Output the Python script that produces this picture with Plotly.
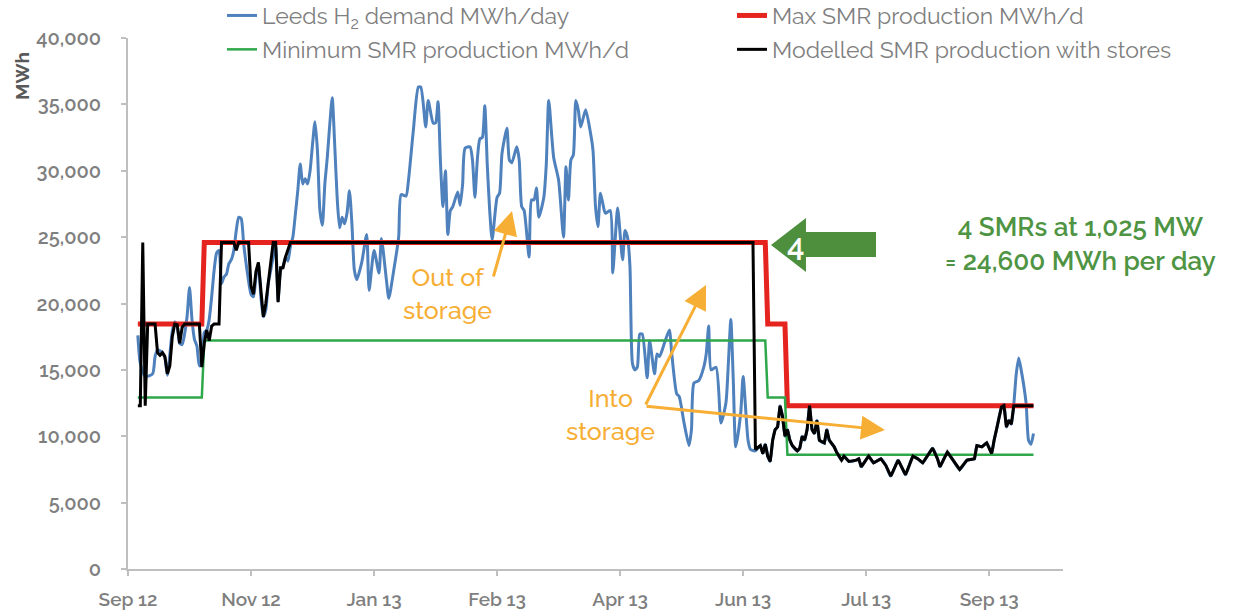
import pandas as pd
import plotly.graph_objects as go

# ---------------- data (day 0 = 1 Oct 2012) ----------------
START = pd.Timestamp("2012-10-01")

demand_day = [0, 1, 3, 6, 7, 8, 10, 11, 12, 14, 15, 16, 17, 18, 19, 20, 21, 22, 23, 24, 25, 26, 27, 28, 29,
              30, 31, 32, 33, 34, 35, 36, 37, 38, 39, 40, 41, 42, 43, 44, 45, 46, 47, 48, 49, 50, 51, 52, 53,
              54, 55, 56, 57, 58, 59, 60, 61, 62, 63, 64, 65, 66, 67, 68, 69, 70, 71, 72, 73, 74, 75, 76, 77,
              78, 79, 80, 81, 82, 83, 84, 85, 86, 87, 88, 89, 91, 93, 94, 96, 98, 99, 101, 102, 104, 106, 107,
              109, 110, 112, 114, 115, 117, 118, 120, 121, 122, 123, 124, 125, 126, 127, 128, 130, 131, 132,
              133, 135, 136, 137, 138, 139, 140, 141, 142, 143, 144, 146, 147, 148, 150, 151, 152, 154, 155,
              156, 157, 159, 160, 161, 162, 163, 165, 166, 167, 169, 171, 173, 174, 175, 176, 177, 178, 179,
              180, 182, 184, 185, 186, 187, 188, 189, 190, 192, 193, 194, 195, 197, 198, 199, 200, 201, 202,
              203, 204, 205, 207, 208, 210, 211, 212, 214, 216, 217, 219, 220, 222, 224, 225, 226, 228, 230,
              231, 232, 233, 235, 237, 239, 240, 241, 242, 243, 245, 246, 248, 249, 251, 253, 254, 255, 256,
              257, 258, 259, 260, 261, 262, 263, 264, 265, 266, 268, 269, 270, 271, 272, 273, 274, 275, 276,
              277, 279, 280, 281, 283, 284, 286, 287, 289, 292, 293, 294, 297, 299, 302, 304, 306, 309, 312,
              315, 317, 319, 323, 325, 326, 329, 331, 334, 337, 340, 341, 343, 345, 347, 348, 349, 351, 352,
              353, 354, 355, 356, 357, 358, 359, 361, 362, 363, 364]
demand_mwh = [17600, 15500, 14500, 14700, 16000, 16500, 16300, 15900, 14600, 17900, 18600, 18300, 17000, 16900,
              17700, 19000, 21200, 18800, 17300, 16800, 15300, 15500, 17800, 18000, 18800, 20500, 22500, 23800,
              24000, 21500, 22000, 22200, 23000, 23300, 24000, 25500, 26500, 26400, 24500, 23000, 21700, 20700,
              20500, 22000, 23000, 20500, 19000, 19500, 21500, 22500, 23500, 24500, 20200, 22500, 22800, 23500,
              23200, 24300, 25000, 26700, 28500, 30500, 29000, 29400, 29000, 30000, 32000, 33700, 31500, 27000,
              25900, 29000, 31000, 33500, 35500, 32000, 28000, 25700, 26500, 26000, 26800, 28500, 26000, 22500,
              21800, 23100, 25200, 21000, 24000, 22300, 24900, 21800, 20400, 22500, 25000, 28200, 28100, 29300,
              33100, 36300, 36300, 33300, 35300, 33600, 33600, 35200, 30600, 27300, 30000, 25200, 27000, 27300,
              28400, 27400, 29000, 31700, 31800, 30800, 28000, 30900, 32400, 32500, 34900, 30500, 27000, 24800,
              28000, 28300, 31300, 33200, 30800, 30600, 31800, 30800, 27300, 27000, 23500, 27800, 27800, 28700,
              26500, 28000, 30500, 35300, 31000, 29300, 25000, 30300, 27800, 30800, 31200, 35300, 34600, 33300,
              34600, 32800, 31500, 27300, 25800, 28300, 27500, 26800, 27000, 22300, 24800, 27200, 23300, 25500,
              25000, 22800, 15500, 15000, 15200, 17700, 17700, 14400, 17200, 14700, 16200, 16000, 17000, 18000,
              16200, 13200, 13000, 11000, 9300, 10500, 14000, 14200, 15200, 16200, 18300, 15000, 15200, 11000,
              12500, 15500, 18800, 14200, 9200, 11700, 14500, 9700, 9000, 8900, 9300, 8700, 9400, 8500, 8100,
              9700, 10500, 10700, 12300, 11500, 10000, 10500, 9700, 9300, 8900, 9100, 10000, 9700, 10500, 12300,
              10500, 10200, 11200, 9700, 9500, 10500, 9700, 9200, 8800, 8200, 8500, 8100, 8200, 8300, 7700,
              8500, 8000, 8300, 7800, 7000, 8200, 7100, 8500, 8300, 8000, 9100, 8300, 7700, 8800, 8300, 7500,
              8200, 8300, 9300, 9200, 9500, 8700, 9700, 10500, 12200, 12400, 10700, 11200, 10900, 12400, 14700,
              15900, 15000, 12500, 9700, 9400, 10200, 10500]

max_day = [0, 26, 27, 255, 256, 263, 264, 364]
max_mwh = [18450, 18450, 24600, 24600, 18450, 18450, 12300, 12300]

min_day = [0, 26, 27, 255, 256, 263, 264, 364]
min_mwh = [12915, 12915, 17220, 17220, 12915, 12915, 8610, 8610]

model_day = [0, 1, 2, 3, 4, 7, 8, 9, 10, 11, 12, 13, 14, 15, 16, 17, 18, 19, 25, 26, 27, 28, 29, 30, 31, 33,
             34, 39, 40, 41, 45, 46, 47, 48, 49, 50, 51, 52, 53, 54, 55, 56, 57, 58, 59, 60, 61, 62, 250,
             251, 253, 254, 255, 256, 257, 258, 259, 260, 261, 262, 263, 264, 265, 266, 268, 269, 270, 271,
             272, 273, 274, 275, 276, 277, 279, 280, 281, 283, 284, 286, 287, 289, 292, 293, 294, 297, 299,
             302, 304, 306, 309, 312, 315, 317, 319, 323, 325, 326, 329, 331, 334, 337, 340, 341, 343, 345,
             347, 348, 349, 351, 352, 353, 354, 355, 356, 364]
model_mwh = [12300, 12300, 24600, 12300, 18450, 18450, 16300, 16100, 16300, 16000, 14700, 15300, 17500, 18450,
             18400, 17000, 18200, 18450, 18450, 15200, 17000, 18000, 17200, 18300, 18450, 18450, 24600, 24600,
             24000, 24600, 24600, 21300, 20700, 22400, 23100, 20800, 19000, 20000, 21500, 23000, 24600, 24600,
             20100, 22700, 22700, 23500, 24000, 24600, 24600, 9000, 9300, 8700, 9400, 8500, 8100, 9700, 10500,
             10700, 12300, 11500, 10000, 10500, 9700, 9300, 8900, 9100, 10000, 9700, 10500, 12300, 10500,
             10200, 11200, 9700, 9500, 10500, 9700, 9200, 8800, 8200, 8500, 8100, 8200, 8300, 7700, 8500,
             8000, 8300, 7800, 7000, 8200, 7100, 8500, 8300, 8000, 9100, 8300, 7700, 8800, 8300, 7500, 8200,
             8300, 9300, 9200, 9500, 8700, 9700, 10500, 12200, 12300, 10700, 11200, 10900, 12300, 12300]

tick_day = [-4, 46, 96, 146, 196, 246, 296, 346]
tick_text = ["Sep 12", "Nov 12", "Jan 13", "Feb 13", "Apr 13", "Jun 13", "Jul 13", "Sep 13"]
axis_day = [-4, 376]
y_ticks = [0, 5000, 10000, 15000, 20000, 25000, 30000, 35000, 40000]


def to_date(days):
    return [START + pd.Timedelta(days=d) for d in days]


FONT = "Raleway, 'Open Sans', sans-serif"
GREY = "#7F7F7F"
ORANGE = "#F7AE34"
GREEN_TXT = "#4E9443"

fig = go.Figure()
fig.add_trace(go.Scatter(x=to_date(demand_day), y=demand_mwh, mode="lines",
                         name="Leeds H<sub>2</sub> demand MWh/day", legend="legend", legendgroup="a",
                         line=dict(color="#4F81BD", width=3, shape="spline", smoothing=0.6)))
fig.add_trace(go.Scatter(x=to_date(max_day), y=max_mwh, mode="lines",
                         name="Max SMR production MWh/d", legend="legend2", legendgroup="b",
                         line=dict(color="#E5231F", width=5)))
fig.add_trace(go.Scatter(x=to_date(min_day), y=min_mwh, mode="lines",
                         name="Minimum SMR production MWh/d", legend="legend", legendgroup="c",
                         line=dict(color="#2EA84A", width=2.5)))
fig.add_trace(go.Scatter(x=to_date(model_day), y=model_mwh, mode="lines",
                         name="Modelled SMR production with stores", legend="legend2", legendgroup="d",
                         line=dict(color="#000000", width=3)))


# plot area: x 128..1063 px, y 38..569 px
def px(xp):
    return (xp - 128) / 935.0


def py(yp):
    return (569 - yp) / 531.0


# big green block arrow with "4"
arrow_pts = [(771, 245), (806, 218), (806, 232), (876, 232), (876, 257), (806, 257), (806, 272)]
path = "M " + " L ".join(f"{px(a):.4f},{py(b):.4f}" for a, b in arrow_pts) + " Z"
fig.add_shape(type="path", path=path, xref="paper", yref="paper",
              fillcolor="#4E8F3E", line=dict(width=0), layer="above")

annotations = [
    dict(x=px(795), y=py(245), text="4", showarrow=False,
         font=dict(family=FONT, size=31, color="white", weight=600), xanchor="center", yanchor="middle"),
    dict(x=px(1080), y=py(244), text="4 SMRs at 1,025 MW<br>= 24,600 MWh per day", showarrow=False,
         font=dict(family=FONT, size=26, color=GREEN_TXT, weight=600), xanchor="center", yanchor="middle",
         align="center"),
    dict(x=px(447), y=py(293), text="Out of<br>storage", showarrow=False,
         font=dict(family=FONT, size=25, color=ORANGE, weight=500), xanchor="center", yanchor="middle",
         align="center"),
    dict(x=px(610), y=py(414), text="Into<br>storage", showarrow=False,
         font=dict(family=FONT, size=25, color=ORANGE, weight=500), xanchor="center", yanchor="middle",
         align="center"),
    dict(x=px(512), y=py(211), ax=-19, ay=67, axref="pixel", ayref="pixel",
         text="", showarrow=True, arrowhead=2, arrowsize=1.6, arrowwidth=3, arrowcolor=ORANGE),
    dict(x=px(706), y=py(285), ax=-61, ay=121, axref="pixel", ayref="pixel",
         text="", showarrow=True, arrowhead=2, arrowsize=1.6, arrowwidth=3, arrowcolor=ORANGE),
    dict(x=px(885), y=py(430), ax=-240, ay=-24, axref="pixel", ayref="pixel",
         text="", showarrow=True, arrowhead=2, arrowsize=1.6, arrowwidth=3, arrowcolor=ORANGE),
    dict(x=px(22), y=py(76), text="MWh", showarrow=False, textangle=-90,
         font=dict(family=FONT, size=19, color="#595959", weight=700), xanchor="center", yanchor="middle"),
]
for a in annotations:
    a["xref"] = "paper"
    a["yref"] = "paper"
fig.update_layout(annotations=annotations)

legend_common = dict(orientation="v", xanchor="left", yanchor="top", xref="paper", yref="paper",
                     font=dict(family=FONT, size=23, color=GREY), bgcolor="rgba(0,0,0,0)",
                     traceorder="grouped", tracegroupgap=1)

fig.update_layout(
    width=1237, height=613,
    margin=dict(l=128, r=174, t=38, b=44, autoexpand=False),
    paper_bgcolor="white", plot_bgcolor="white",
    font=dict(family=FONT, color=GREY, size=16),
    showlegend=True,
    legend=dict(x=px(222), y=py(-6), **legend_common),
    legend2=dict(x=px(732), y=py(-6), **legend_common),
    xaxis=dict(type="date", range=to_date(axis_day), tickvals=to_date(tick_day), ticktext=tick_text,
               showgrid=False, zeroline=False, showline=True, linecolor="#BFBFBF", linewidth=2,
               ticks="outside", ticklen=5, tickcolor="#BFBFBF", tickwidth=1.5,
               tickfont=dict(family=FONT, size=19, color=GREY, weight=600), ticklabelstandoff=7),
    yaxis=dict(range=[0, 40000], tickvals=y_ticks, tickformat=",d",
               showgrid=False, zeroline=False, showline=True, linecolor="#BFBFBF", linewidth=2,
               ticks="outside", ticklen=5, tickcolor="#BFBFBF", tickwidth=1.5,
               tickfont=dict(family=FONT, size=20, color=GREY, weight=600), ticklabelstandoff=16),
)

fig.write_html("out.html", config={"displayModeBar": False},
               post_script="document.body.style.margin='0px';")
